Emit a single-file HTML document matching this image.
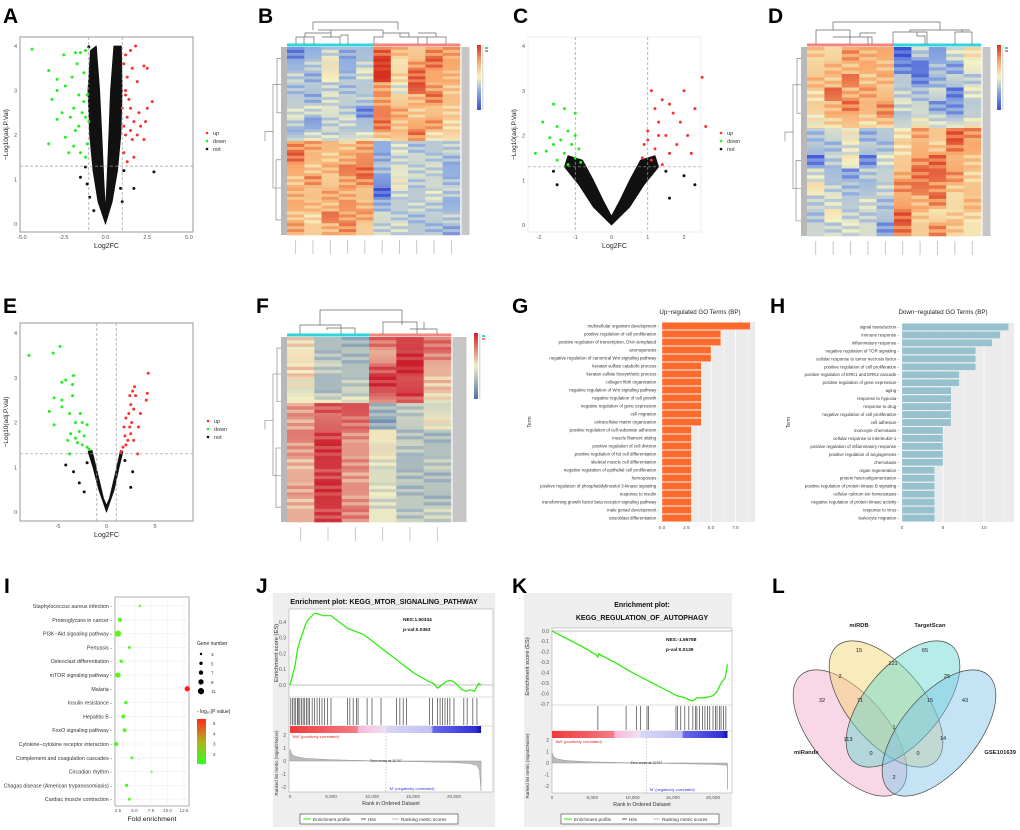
<!DOCTYPE html>
<html><head><meta charset="utf-8"><style>
html,body{margin:0;padding:0;background:#fff;}
svg{display:block;font-family:"Liberation Sans",Arial,sans-serif;}
</style></head><body>
<svg id="fig" width="1020" height="830" viewBox="0 0 1020 830" xmlns="http://www.w3.org/2000/svg">
<defs>
<linearGradient id="hmGrad" x1="0" y1="1" x2="0" y2="0"><stop offset="0" stop-color="#3b50d6"/><stop offset="0.3" stop-color="#91afe0"/><stop offset="0.5" stop-color="#f5f2c4"/><stop offset="0.75" stop-color="#f8a86a"/><stop offset="1" stop-color="#d7301f"/></linearGradient>
<linearGradient id="hmGradF" x1="0" y1="1" x2="0" y2="0"><stop offset="0" stop-color="#4a72a8"/><stop offset="0.5" stop-color="#f3eec4"/><stop offset="1" stop-color="#cc1f2e"/></linearGradient>
<linearGradient id="pGrad" x1="0" y1="1" x2="0" y2="0"><stop offset="0" stop-color="#33ff22"/><stop offset="0.5" stop-color="#b0b020"/><stop offset="1" stop-color="#ff2a1a"/></linearGradient>
<linearGradient id="rankGrad" x1="0" y1="0" x2="1" y2="0"><stop offset="0" stop-color="#f03a3a"/><stop offset="0.35" stop-color="#f47a86"/><stop offset="0.36" stop-color="#f7b8dc"/><stop offset="0.5" stop-color="#f0e0f4"/><stop offset="0.51" stop-color="#d6d6f6"/><stop offset="0.74" stop-color="#c0c0f4"/><stop offset="0.75" stop-color="#6868e8"/><stop offset="0.97" stop-color="#3030d8"/><stop offset="1" stop-color="#1010a0"/></linearGradient>
</defs>
<g font-weight="bold" font-size="21" fill="#000">
<text x="3" y="23">A</text>
<text x="258" y="23">B</text>
<text x="513" y="23">C</text>
<text x="768" y="23">D</text>
<text x="3" y="313">E</text>
<text x="256" y="313">F</text>
<text x="512" y="313">G</text>
<text x="770" y="313">H</text>
<text x="4" y="593">I</text>
<text x="256" y="593">J</text>
<text x="512" y="593">K</text>
<text x="772" y="593">L</text>
</g>
</svg>
<script>
// ---------- DATA ----------
const upA=[[1.2,3.8],[1.5,3.9],[1.8,4.0],[1.1,3.6],[1.3,3.3],[1.6,3.5],[2.3,3.55],[2.5,3.5],[1.2,3.0],[1.4,2.8],[1.9,3.2],[2.8,2.75],[1.5,2.6],[2.0,2.5],[1.3,2.4],[2.5,2.6],[1.7,2.3],[2.4,2.3],[1.2,2.0],[1.6,1.9],[2.3,1.9],[1.1,1.6],[1.7,1.5],[1.3,1.4],[1.9,2.0],[1.1,2.2],[1.5,2.1],[2.1,2.2],[1.2,2.9],[1.0,2.6]];
const downA=[[-4.4,3.93],[-3.4,3.45],[-2.5,3.8],[-1.8,3.85],[-1.5,3.85],[-1.7,3.6],[-2.9,3.25],[-2.9,3.0],[-3.2,2.8],[-2.4,3.1],[-2.0,3.3],[-2.6,2.5],[-2.9,2.35],[-3.4,1.8],[-2.1,2.4],[-1.9,2.6],[-1.6,2.9],[-1.3,2.75],[-1.6,2.2],[-1.2,2.4],[-2.4,1.95],[-1.9,1.75],[-2.2,1.6],[-1.5,1.6],[-1.2,1.5],[-1.8,2.1],[-1.4,2.5],[-1.1,1.8],[-1.3,3.4],[-1.2,3.9],[-1.1,2.9],[-1.0,2.3]];
const notA=[[-1.2,1.28],[-1.5,1.05],[2.9,1.17],[1.7,0.8],[-0.95,0.6],[1.0,0.5],[-0.7,0.3],[-1.0,3.98],[1.1,1.2],[-1.1,0.9],[0.9,0.8]];
const cloudA=[[[0,0],[-0.45,0.5],[-0.75,1.2],[-0.95,2.0],[-1.05,3.0],[-0.9,3.9],[-0.55,4.0],[-0.35,3.0],[-0.22,2.0],[-0.1,1.0],[-0.02,0.45]],[[0,0],[0.4,0.5],[0.72,1.2],[0.92,2.0],[1.0,3.0],[0.95,4.0],[0.5,4.0],[0.3,3.0],[0.2,2.0],[0.09,1.0],[0.02,0.45]]];
const upC=[[2.5,3.3],[1.1,3.0],[1.4,2.8],[1.6,2.7],[2.0,3.0],[1.2,2.6],[1.7,2.5],[2.3,2.6],[1.9,2.3],[1.3,2.3],[1.0,2.1],[1.5,2.0],[2.1,2.0],[0.9,1.8],[1.2,1.7],[1.6,1.6],[0.85,1.5],[1.1,1.45],[1.4,1.35],[1.8,1.8],[2.2,1.6],[1.0,1.9],[1.3,2.0],[2.6,2.2]];
const downC=[[-1.6,2.7],[-1.3,2.6],[-1.0,2.5],[-1.9,2.3],[-1.5,2.2],[-1.2,2.1],[-1.0,2.0],[-1.7,1.95],[-1.4,1.9],[-1.1,1.8],[-0.9,1.7],[-1.8,1.65],[-1.3,1.6],[-1.0,1.5],[-1.5,1.45],[-0.85,1.4],[-1.2,1.35],[-2.1,1.6],[-1.6,1.8]];
const notC=[[2.0,1.1],[2.3,0.9],[-1.5,0.9],[1.6,0.6],[-1.6,1.2],[1.5,1.2]];
const cloudC=[[[0,0],[-0.5,0.4],[-0.9,0.9],[-1.3,1.3],[-1.2,1.55],[-0.8,1.45],[-0.5,1.0],[-0.2,0.5],[0,0.2]],[[0,0],[0.5,0.4],[0.9,0.9],[1.3,1.3],[1.2,1.55],[0.8,1.45],[0.5,1.0],[0.2,0.5],[0,0.2]]];
const upE=[[4.3,3.1],[2.9,2.8],[2.7,2.7],[3.0,2.6],[2.5,2.4],[4.2,2.65],[4.1,2.5],[2.3,2.2],[2.8,2.3],[2.6,2.0],[3.5,2.2],[2.0,2.1],[2.4,1.9],[3.3,1.9],[1.9,1.7],[2.2,1.6],[2.8,1.6],[1.7,1.45],[2.0,1.5],[1.5,1.35],[3.2,1.3],[2.5,1.75],[1.8,1.9],[2.4,2.6]];
const downE=[[-8,3.5],[-4.8,3.7],[-5.5,3.55],[-3.4,3.05],[-4.2,2.95],[-4.6,2.9],[-3.5,2.85],[-5.4,2.55],[-4.6,2.5],[-3.5,2.6],[-5.9,2.25],[-5.4,1.95],[-3.8,2.2],[-2.7,2.2],[-3.2,2.0],[-2.5,2.0],[-2.0,1.95],[-3.7,1.75],[-2.8,1.8],[-2.3,1.7],[-4.0,1.6],[-3.0,1.55],[-2.5,1.5],[-2.0,1.45],[-3.8,1.3],[-1.8,1.4],[-4.6,2.35],[-3.2,1.65]];
const notE=[[-4.2,1.05],[-3.4,0.9],[-2.8,0.65],[2.5,0.55],[-2.3,0.45],[2.7,0.9],[-2.0,1.1],[1.9,1.15]];
const cloudE=[[[0,0],[-0.8,0.5],[-1.4,1.0],[-1.9,1.35],[-1.5,1.38],[-0.9,0.85],[-0.3,0.3],[0,0.15]],[[0,0],[0.8,0.5],[1.3,1.0],[1.7,1.35],[1.45,1.38],[0.9,0.85],[0.3,0.3],[0,0.15]]];

const matB=[[-1.5,-1,-0.5,-1,-0.8,1.5,0.8,0.5,1.2,1],[-1,-0.5,0,-1,-0.5,2,0.2,1,1.5,1],[-0.5,-1,0.2,-0.8,-0.3,2.2,0.5,1.5,1,0.8],[-0.8,-0.6,-0.5,-0.8,-0.6,1,-0.3,1.8,1,0.6],[-0.6,-1,-0.4,-0.5,-0.5,1,0.4,0.8,1.4,0.7],[-0.3,-0.3,-0.2,-0.6,-1.5,1.3,1,0.5,0.6,0.5],[-0.5,-1.2,-0.5,-0.4,-0.8,1.5,0.6,0.8,1.2,0.3],[-1,-0.5,-0.6,-0.6,-0.4,0.9,0.8,1.6,0.4,0.5],[1.2,1,0.8,0.6,1,-1,-0.3,-0.8,-0.6,-0.5],[1.5,0.8,0.5,0.8,1.2,-1,-0.5,-0.4,-0.6,-0.8],[1,0.5,0.8,1.4,1.5,-0.8,-0.2,-0.5,-0.5,-1],[0.6,1.2,0.5,1,1.3,-1.2,0,-0.6,-0.4,-0.8],[0.8,0.6,1,0.8,0.6,-1.8,-0.4,-0.6,-0.3,-0.6],[1,0.8,0.6,1.2,0.8,-1,-0.5,-0.4,-0.6,-1],[0.6,0.3,1.5,1,1,-0.3,-0.6,-0.8,-0.5,-0.5],[1,0.5,0.8,1.2,0.5,-0.5,-0.4,-0.6,-0.8,-1]];
const matD=[[0.6,0.3,1.2,0.8,1,-1.8,-0.5,-1.2,-0.2,0.2],[0.4,0.8,0.6,1,0.7,-1.5,-1.6,-0.8,-1.2,0],[0.8,0.5,1.5,0.6,0.8,-0.6,-1.5,-1,-0.4,-0.6],[0.3,1.6,0.8,1,0.6,-0.5,-0.8,-0.3,-1.5,-0.2],[0.5,0.8,1.4,0.8,1.3,-0.4,-0.4,-1.2,-1.3,-0.6],[0.2,0.6,0.8,0.6,0.9,-0.6,-0.2,-0.5,-0.8,-0.3],[-0.8,-0.3,0.1,-1,-0.6,0.2,1,0.6,1.6,1.2],[-0.6,-0.8,-0.3,-0.5,-0.8,0.3,0.8,0.5,1.4,1],[-1.6,-0.6,0.2,-1.5,-0.3,0.5,1.2,1.5,0.8,0.6],[-0.4,-0.8,-1.2,-0.6,-0.5,0.8,1.4,1.6,1.2,0.4],[0.3,-0.5,-0.8,-0.8,-0.4,1.2,1.5,1.2,0.6,0.6],[-0.5,-0.4,-0.6,-0.3,-0.8,0.9,0.8,1.4,0.3,0.8],[-0.8,0.2,-0.5,-0.6,-0.6,1.6,0.6,0.2,0.5,0.4],[-0.4,-0.5,-0.3,-0.3,-1.2,1.4,0.5,1.2,0.6,0.2]];
const matF=[[0.2,-0.8,-1,1.2,1.6,1.2],[0.1,-0.8,-0.9,0.6,1.8,1.0],[0.3,-0.6,-0.8,1.4,2.0,0.6],[0,-0.9,-0.6,1.8,1.5,0.4],[-0.2,-0.8,-0.7,1.5,1.9,0.2],[0.8,1.4,1.5,-0.9,-0.7,-0.4],[0.6,1.2,1.2,-1.4,-0.5,0.1],[1.1,1.6,0.9,0.1,-0.8,-0.9],[0.8,1.7,0.8,0,-0.7,-0.8],[0.5,1.8,0.9,-0.2,-0.9,-0.6],[0.6,1.6,0.7,-0.3,-0.8,-0.9],[0.7,1.7,0.9,-0.2,-0.9,-0.7],[0.5,1.8,0.8,-0.4,-0.6,-0.9],[0.6,1.6,1.0,-0.1,-0.7,-0.5]];

const goUpTerms=["multicellular organism development","positive regulation of cell proliferation","positive regulation of transcription, DNA-templated","axonogenesis","negative regulation of canonical Wnt signaling pathway","keratan sulfate catabolic process","keratan sulfate biosynthetic process","collagen fibril organization","negative regulation of Wnt signaling pathway","negative regulation of cell growth","negative regulation of gene expression","cell migration","extracellular matrix organization","positive regulation of cell-substrate adhesion","muscle filament sliding","positive regulation of cell division","positive regulation of fat cell differentiation","skeletal muscle cell differentiation","negative regulation of epithelial cell proliferation","hemopoiesis","positive regulation of phosphatidylinositol 3-kinase signaling","response to insulin","transforming growth factor beta receptor signaling pathway","male gonad development","osteoblast differentiation"];
const goUpVals=[9,6,6,5,5,4,4,4,4,4,4,4,4,3,3,3,3,3,3,3,3,3,3,3,3];
const goDownTerms=["signal transduction","immune response","inflammatory response","negative regulation of TOR signaling","cellular response to tumor necrosis factor","positive regulation of cell proliferation","positive regulation of ERK1 and ERK2 cascade","positive regulation of gene expression","aging","response to hypoxia","response to drug","negative regulation of cell proliferation","cell adhesion","monocyte chemotaxis","cellular response to interleukin-1","positive regulation of inflammatory response","positive regulation of angiogenesis","chemotaxis","organ regeneration","protein heterooligomerization","positive regulation of protein kinase B signaling","cellular calcium ion homeostasis","negative regulation of protein kinase activity","response to virus","leukocyte migration"];
const goDownVals=[13,12,11,9,9,9,7,7,6,6,6,6,6,5,5,5,5,5,4,4,4,4,4,4,4];

const keggTerms=["Staphylococcus aureus infection","Proteoglycans in cancer","PI3K−Akt signaling pathway","Pertussis","Osteoclast differentiation","mTOR signaling pathway","Malaria","Insulin resistance","Hepatitis B","FoxO signaling pathway","Cytokine−cytokine receptor interaction","Complement and coagulation cascades","Circadian rhythm","Chagas disease (American trypanosomiasis)","Cardiac muscle contraction"];
const keggFold=[5.8,2.8,2.5,4.2,3.0,2.5,13.0,3.7,3.3,3.5,2.2,4.6,7.6,3.8,4.2];
const keggGenes=[3,7,11,4,5,9,9,5,6,6,7,4,2,5,4];
const keggLogP=[1.6,1.8,1.9,1.5,1.4,1.9,5.5,1.5,1.6,1.7,1.5,1.4,1.2,1.5,1.4];

const jRanks=[0,300,600,900,1200,1600,2000,2500,3000,3500,4000,5000,6000,7000,8000,9000,10000,11000,12000,13000,14000,15000,16000,17000,17500,18000,18500,19000,19500,20000,21000,21500,22000,22500,23000,23300];
const jES=[0,0.06,0.12,0.22,0.28,0.34,0.4,0.43,0.455,0.45,0.44,0.44,0.4,0.36,0.34,0.32,0.28,0.24,0.2,0.16,0.12,0.08,0.05,0.02,0.01,-0.02,0,0.02,0.03,0.02,-0.03,-0.04,-0.03,-0.04,0.01,0];
const jHits=[100,300,500,700,900,1000,1200,1400,1600,1800,2000,2200,2400,2700,3000,3300,3600,3900,4200,4600,5000,7000,7300,7700,8100,8300,9400,10000,11100,13000,13400,13800,14200,17000,17400,18000,18300,18600,18900,19200,19500,20000,21200,21600,22300,22800];
const kRanks=[0,2000,4000,5500,5700,5800,8000,10000,12000,14000,15000,15500,16500,17000,17500,18000,19000,20000,20500,21000,21500,21800];
const kES=[0,-0.08,-0.16,-0.23,-0.25,-0.22,-0.31,-0.40,-0.48,-0.56,-0.6,-0.62,-0.64,-0.66,-0.67,-0.64,-0.64,-0.62,-0.58,-0.5,-0.45,-0.32];
const kHits=[5700,9200,10500,11000,11800,12000,15400,15600,16000,16500,17000,17500,17800,18000,18300,18700,19000,19300,19600,20000,20300,20500,20800,21000,21300,21600];
const metricRanks=[0,200,500,1000,2000,5000,8000,11707,15000,20000,22000,22800,23100,23300];
const metricVals=[0.9,0.55,0.4,0.3,0.2,0.1,0.05,0,-0.05,-0.12,-0.2,-0.35,-0.7,-2.3];

const vennNames=["miRanda","miRDB","TargetScan","GSE101639"];
const vennCounts=["15","65","121","2","25","32","71","15","43","1","113","14","0","0","2"];

// ---------- HELPERS ----------
const NS='http://www.w3.org/2000/svg';
const svg=document.getElementById('fig');
function mk(tag,attrs,parent){const e=document.createElementNS(NS,tag);for(const k in attrs)e.setAttribute(k,attrs[k]);(parent||svg).appendChild(e);return e;}
function txt(x,y,s,size,attrs,parent){const e=mk('text',Object.assign({x:x,y:y,'font-size':size},attrs||{}),parent);e.textContent=s;return e;}
function lin(d0,d1,r0,r1){return v=>r0+(v-d0)*(r1-r0)/(d1-d0);}

// ---------- VOLCANO ----------
function volcano(cfg){
  const g=mk('g',{});
  
  
  const X=lin(cfg.xd[0],cfg.xd[1],cfg.xr[0],cfg.xr[1]);
  const Y=lin(0,4,cfg.y0,cfg.y4);
  const fr=mk('rect',{x:cfg.box[0],y:cfg.box[1],width:cfg.box[2]-cfg.box[0],height:cfg.box[3]-cfg.box[1],fill:'#fff',stroke:cfg.frame,'stroke-width':1},g);
  
  
  cfg.cloud.forEach(poly=>{
    const p=mk('polygon',{points:poly.map(q=>X(q[0])+','+Y(q[1])).join(' '),fill:'#111',stroke:'#111','stroke-width':0.8,'stroke-linejoin':'round'},g);
    
    
  });
  const sets=[[cfg.not,'#111','not-point'],[cfg.down,'#22ee22','down-point'],[cfg.up,'#ff3030','up-point']];
  sets.forEach(s=>s[0].forEach(q=>{
    const c=mk('circle',{cx:X(q[0]),cy:Y(q[1]),r:1.5,fill:s[1]},g);
    
    
  }));
  const dl={stroke:'#999','stroke-dasharray':'3,2','stroke-width':0.7};
  [-1,1].forEach(v=>{const l=mk('line',Object.assign({x1:X(v),x2:X(v),y1:cfg.box[1],y2:cfg.box[3]},dl),g);
    
    });
  const hl=mk('line',Object.assign({x1:cfg.box[0],x2:cfg.box[2],y1:Y(1.3),y2:Y(1.3)},dl),g);
  
  
  cfg.xt.forEach((v,i)=>{const t=txt(X(v),cfg.box[3]+7,cfg.xtl[i],5.5,{'text-anchor':'middle',fill:'#555'},g);
    
    });
  [0,1,2,3,4].forEach(v=>{const t=txt(cfg.box[0]-3,Y(v)+2,String(v),5.5,{'text-anchor':'end',fill:'#555'},g);
    
    });
  const xt=txt((cfg.box[0]+cfg.box[2])/2,cfg.box[3]+16,'Log2FC',7,{'text-anchor':'middle',fill:'#222'},g);
  
  
  const cy=(cfg.box[1]+cfg.box[3])/2;
  const yt=txt(cfg.box[0]-12,cy,'−Log10(adj.P.Val)',6.5,{'text-anchor':'middle',fill:'#222',transform:'rotate(-90 '+(cfg.box[0]-12)+' '+cy+')'},g);
  
  
  [['up','#ff3030'],['down','#22ee22'],['not','#111']].forEach((s,i)=>{
    const c=mk('circle',{cx:cfg.leg[0],cy:cfg.leg[1]+i*8,r:1.3,fill:s[1]},g);
    
    
    const t=txt(cfg.leg[0]+6,cfg.leg[1]+i*8+2,s[0],5.5,{fill:'#333'},g);
    
    
  });
}
volcano({name:'volcano-a',box:[20,37,193,232],frame:'#999',xd:[-5,5],xr:[22,189],y0:224,y4:46,up:upA,down:downA,not:notA,cloud:cloudA,xt:[-5,-2.5,0,2.5,5],xtl:['-5.0','-2.5','0.0','2.5','5.0'],leg:[207,133]});
volcano({name:'volcano-c',box:[528,37,701,232],frame:'#eee',xd:[-2,2],xr:[539,684],y0:225,y4:46,up:upC,down:downC,not:notC,cloud:cloudC,xt:[-2,-1,0,1,2],xtl:['-2','-1','0','1','2'],leg:[721,133]});
volcano({name:'volcano-e',box:[20,323,193,521],frame:'#999',xd:[-5,5],xr:[58,155],y0:512,y4:333,up:upE,down:downE,not:notE,cloud:cloudE,xt:[-5,0,5],xtl:['-5','0','5'],leg:[208,421]});

// ---------- HEATMAPS ----------
function hcolor(v,stops){
  const t=Math.max(0,Math.min(1,(v+2)/4));
  const n=stops.length-1;const i=Math.min(n-1,Math.floor(t*n));const f=t*n-i;
  const a=stops[i],b=stops[i+1];
  return 'rgb('+[0,1,2].map(k=>Math.round(a[k]+(b[k]-a[k])*f)).join(',')+')';
}
const stopsRB=[[59,80,214],[145,175,224],[245,242,196],[248,168,106],[215,48,31]];
const stopsF=[[74,114,168],[160,180,190],[243,238,196],[225,130,120],[204,31,46]];
function heatmap(cfg){
  const g=mk('g',{});
  
  
  const m=cfg.mat, nr=m.length, nc=m[0].length;
  const cw=(cfg.x1-cfg.x0)/nc, rh=(cfg.y1-cfg.y0)/nr, sub=4;
  m.forEach((row,r)=>row.forEach((v,c)=>{
    for(let s=0;s<sub;s++){
      const nb=m[Math.min(nr-1,r+1)][c];
      const vv=v+(nb-v)*(s/sub)*0.35+((s%2)?0.25:-0.25)*((c+r)%3-1);
      const rc=mk('rect',{x:cfg.x0+c*cw,y:cfg.y0+r*rh+s*rh/sub,width:cw+0.3,height:rh/sub+0.3,fill:hcolor(vv,cfg.stops)},g);
      
      
    }
  }));
  cfg.groups.forEach((col,c)=>{
    const b=mk('rect',{x:cfg.x0+c*cw,y:cfg.y0-3.5,width:cw+0.3,height:3,fill:col},g);
    
    
    const lab=mk('rect',{x:cfg.x0+c*cw+cw/2-0.4,y:cfg.y1+5,width:0.8,height:14,fill:'#bbb'},g);
    
    
  });
  const dg=mk('path',{d:cfg.topDendro,fill:'none',stroke:'#666','stroke-width':0.7},g);
  
  
  const ld=mk('path',{d:cfg.leftDendro,fill:'none',stroke:'#777','stroke-width':0.6},g);
  
  
  const fr=mk('rect',{x:cfg.x0-6,y:cfg.y0,width:6,height:cfg.y1-cfg.y0,fill:'#b8b8b8'},g);
  
  
  const rl=mk('rect',{x:cfg.x1+1.5,y:cfg.y0,width:cfg.labW,height:cfg.y1-cfg.y0,fill:'#c6c6c6'},g);
  
  
  const cb=mk('rect',{x:cfg.cb[0],y:cfg.cb[1],width:4,height:cfg.cb[2],fill:cfg.grad},g);
  
  
  const cl=mk('rect',{x:cfg.cb[0]+5,y:cfg.cb[1],width:1.5,height:cfg.cb[2],fill:'#ddd'},g);
  
  
  const lg1=mk('rect',{x:cfg.cb[0]+8,y:cfg.cb[1]+2,width:3,height:2,fill:cfg.legCols[0]},g);
  
  
  const lg2=mk('rect',{x:cfg.cb[0]+8,y:cfg.cb[1]+5,width:3,height:2,fill:cfg.legCols[1]},g);
  
  
}
const CY='#2fd3dc', PK='#f3857e';
function leftD(x0,y0,y1){const h=y1-y0;return `M${x0-6},${y0+h*0.2}H${x0-14}V${y0+h*0.75}H${x0-6} M${x0-14},${y0+h*0.45}H${x0-22}V${y0+h*0.5} M${x0-6},${y0+h*0.06}H${x0-10}V${y0+h*0.35}H${x0-6} M${x0-6},${y0+h*0.6}H${x0-11}V${y0+h*0.92}H${x0-6} M${x0-10},${y0+h*0.2}H${x0-14} M${x0-11},${y0+h*0.75}H${x0-14}`;}
heatmap({name:'heatmap-b',x0:287,x1:460,y0:47,y1:235,mat:matB,stops:stopsRB,grad:'url(#hmGrad)',groups:[CY,CY,CY,CY,CY,PK,PK,PK,PK,PK],labW:8,cb:[477,45,65],legCols:[CY,PK],
  topDendro:'M296,44V37H314V44 M305,37V33H331V37 M322,37H340V44 M331,33V30H340 M348,44V35H341V37 M313,30V22H398V30 M383,30V37H374V44 M383,37V33H409V37 M400,33V37H418V44 M409,37H427V44 M427,37H446V44 M436,37V33H418 M318,30H383 M304,44V37',
  leftDendro:leftD(287,47,235)});
heatmap({name:'heatmap-d',x0:807,x1:981,y0:47,y1:236,mat:matD,stops:stopsRB,grad:'url(#hmGrad)',groups:[PK,PK,PK,PK,PK,CY,CY,CY,CY,CY],labW:8,cb:[997,45,65],legCols:[CY,PK],
  topDendro:'M816,44V30H850V44 M833,30V22H940V30 M833,37H872V44 M860,37V33H876 M868,37V44 M893,44V32H927V44 M910,32V30H970 M955,44V32H972V44 M962,32V30 M917,32V36H925V44 M940,22V30',
  leftDendro:leftD(807,47,236)});
heatmap({name:'heatmap-f',x0:287,x1:451,y0:337,y1:522,mat:matF,stops:stopsF,grad:'url(#hmGradF)',groups:[CY,CY,CY,PK,PK,PK],labW:14,cb:[474,333,66],legCols:[CY,PK],
  topDendro:'M300,334V325H341V334 M327,330V328H355V334 M320,325V310H402V322 M383,334V322H417V334 M410,329H437V334 M424,329V322 M402,322V325',
  leftDendro:leftD(287,337,522)});

// ---------- GO BARS ----------
function goBars(cfg){
  const g=mk('g',{});
  
  
  const X=lin(0,1,cfg.x0,cfg.x0+cfg.ppu);
  const n=cfg.terms.length, rh=(cfg.y1-cfg.y0)/n;
  const bg=mk('rect',{x:cfg.x0,y:cfg.y0,width:cfg.x1-cfg.x0,height:cfg.y1-cfg.y0,fill:'#ebebeb'},g);
  
  
  for(let v=0;X(v)<=cfg.x1;v+=cfg.step/2){
    const l=mk('line',{x1:X(v),x2:X(v),y1:cfg.y0,y2:cfg.y1,stroke:'#fff','stroke-width':(v%cfg.step===0)?0.8:0.4},g);
    
    
  }
  cfg.terms.forEach((t,i)=>{
    const yc=cfg.y0+rh*(i+0.5);
    const b=mk('rect',{x:X(0),y:yc-rh*0.45,width:X(cfg.vals[i])-X(0),height:rh*0.9,fill:cfg.color,stroke:'#fff','stroke-width':0.3},g);
    
    
    const tl=txt(cfg.x0-3,yc+1.5,t+' -',4.4,{'text-anchor':'end',fill:'#333'},g);
    
    
  });
  cfg.ticks.forEach((v,i)=>{
    const t=txt(X(v),cfg.y1+7,cfg.tickLabels[i],4.8,{'text-anchor':'middle',fill:'#555'},g);
    
    
  });
  const ti=txt(cfg.titleX,314,cfg.title,6.2,{'text-anchor':'middle',fill:'#222'},g);
  
  
  const ty=(cfg.y0+cfg.y1)/2;
  const tt=txt(cfg.termX,ty,'Term',5,{'text-anchor':'middle',fill:'#333',transform:'rotate(-90 '+cfg.termX+' '+ty+')'},g);
  
  
}
goBars({name:'go-up-chart',terms:goUpTerms,vals:goUpVals,x0:662,x1:755,y0:322,y1:522,ppu:9.8,step:2.5,ticks:[0,2.5,5,7.5],tickLabels:['0.0','2.5','5.0','7.5'],color:'#fe6a2b',title:'Up−regulated GO Terms (BP)',titleX:700,termX:531});
goBars({name:'go-down-chart',terms:goDownTerms,vals:goDownVals,x0:902,x1:1014,y0:323,y1:522,ppu:8.2,step:5,ticks:[0,5,10],tickLabels:['0','5','10'],color:'#96c1cd',title:'Down−regulated GO Terms (BP)',titleX:943,termX:790});

// ---------- KEGG BUBBLE ----------
(function(){
  const g=mk('g',{});
  
  
  const x0=115,x1=189,y0=597,y1=806;
  const X=lin(2.5,12.5,118,184);
  const Y=i=>606+i*13.8;
  const fr=mk('rect',{x:x0,y:y0,width:x1-x0,height:y1-y0,fill:'#fff',stroke:'#999','stroke-width':0.8},g);
  
  
  [2.5,5,7.5,10,12.5].forEach(v=>{
    const l=mk('line',{x1:X(v),x2:X(v),y1:y0,y2:y1,stroke:'#eee','stroke-width':0.6},g);
    
    
    const t=txt(X(v),y1+6,v.toFixed(1),4.6,{'text-anchor':'middle',fill:'#555'},g);
    
    
  });
  const R=n=>0.5+0.24*n;
  const C=p=>hcolor((p-1)/4.5*4-2,[[51,255,34],[110,240,30],[200,190,30],[240,110,20],[255,30,20]]);
  keggTerms.forEach((t,i)=>{
    const l=mk('line',{x1:x0,x2:x1,y1:Y(i),y2:Y(i),stroke:'#eee','stroke-width':0.6},g);
    
    
    const c=mk('circle',{cx:X(keggFold[i]),cy:Y(i),r:R(keggGenes[i]),fill:C(keggLogP[i])},g);
    
    
    const tl=txt(x0-3,Y(i)+2,t+' -',5.3,{'text-anchor':'end',fill:'#333'},g);
    
    
  });
  const xt=txt(152,821,'Fold enrichment',6.8,{'text-anchor':'middle',fill:'#111'},g);
  
  
  const gt=txt(197,645,'Gene number',5,{fill:'#222'},g);
  
  
  [3,5,7,9,11].forEach((n,i)=>{
    const c=mk('circle',{cx:201,cy:654+i*9.3,r:R(n),fill:'#000'},g);
    
    
    const t=txt(211,656+i*9.3,String(n),4.5,{fill:'#333'},g);
    
    
  });
  const ct=txt(197,713,'- log\u2081\u2080(P value)',5,{fill:'#222'},g);
  
  
  const cb=mk('rect',{x:197,y:719,width:9,height:45,fill:'url(#pGrad)'},g);
  
  
  [5,4,3,2].forEach((v,i)=>{
    const t=txt(213,725+i*10.3,String(v),4.5,{fill:'#333'},g);
    
    
  });
})();

// ---------- GSEA ----------
function gsea(cfg){
  const g=mk('g',{});
  
  
  const bg=mk('rect',{x:cfg.bg[0],y:cfg.bg[1],width:cfg.bg[2]-cfg.bg[0],height:cfg.bg[3]-cfg.bg[1],fill:'#eeeeee'},g);
  
  
  const X=lin(0,20000,cfg.rx0,cfg.rx20);
  const Y=lin(cfg.esD[0],cfg.esD[1],cfg.esR[0],cfg.esR[1]);
  const M=lin(2,-2,cfg.m2,cfg.mm2);
  const px0=cfg.px0,px1=cfg.px1;
  const pl=mk('rect',{x:px0,y:cfg.esTop,width:px1-px0,height:cfg.mBot-cfg.esTop,fill:'#fff',stroke:'#aaa','stroke-width':0.6},g);
  
  
  cfg.title.forEach((t,i)=>{
    const e=txt(cfg.titleX,cfg.titleY+i*13,t,cfg.titleSize,{'text-anchor':'middle','font-weight':'bold',fill:'#111'},g);
    
    
  });
  const zl=mk('line',{x1:px0,x2:px1,y1:Y(0),y2:Y(0),stroke:'#aaa','stroke-width':0.8},g);
  
  
  const es=mk('polyline',{points:cfg.ranks.map((r,i)=>X(r)+','+Y(cfg.es[i])).join(' '),fill:'none',stroke:'#22ee00','stroke-width':1.2},g);
  
  
  [cfg.esBot,cfg.hitBot].forEach(y=>{const l=mk('line',{x1:px0,x2:px1,y1:y,y2:y,stroke:'#bbb','stroke-width':0.6},g);
    
    });
  cfg.hits.forEach(r=>{
    const l=mk('line',{x1:X(r),x2:X(r),y1:cfg.esBot+1,y2:cfg.hitBot-1,stroke:'#222','stroke-width':0.6},g);
    
    
  });
  const rb=mk('rect',{x:X(0),y:cfg.hitBot,width:X(cfg.nRank)-X(0),height:7,fill:'url(#rankGrad)'},g);
  
  
  const mpts=metricRanks.map((r,i)=>X(Math.min(r,cfg.nRank))+','+M(metricVals[i])).join(' ');
  const mp=mk('polygon',{points:X(0)+','+M(0)+' '+mpts+' '+X(cfg.nRank)+','+M(0),fill:'#bbb',stroke:'#999','stroke-width':0.5},g);
  
  
  const zc=mk('line',{x1:X(11707),x2:X(11707),y1:cfg.hitBot+7,y2:cfg.mBot,stroke:'#aaa','stroke-dasharray':'1.5,1.5','stroke-width':0.6},g);
  
  
  const z1=txt(X(11707),M(0)+1,'Zero cross at 11707',3.6,{'text-anchor':'middle',fill:'#333'},g);
  
  
  const p1=txt(px0+3,cfg.hitBot+12,"'AW' (positively correlated)",4,{fill:'#e02020'},g);
  
  
  const p2=txt(X(11707)+3,cfg.mBot-2,"'M' (negatively correlated)",4,{fill:'#3030e0'},g);
  
  
  cfg.esTicks.forEach(v=>{const t=txt(px0-3,Y(v)+1.8,v.toFixed(1),5,{'text-anchor':'end',fill:'#555'},g);
    
    });
  [2,1,0,-1,-2].forEach(v=>{const t=txt(px0-3,M(v)+1.8,String(v),5,{'text-anchor':'end',fill:'#555'},g);
    
    });
  [0,5000,10000,15000,20000].forEach(v=>{const t=txt(X(v),cfg.mBot+6,v.toLocaleString('en-US'),4.6,{'text-anchor':'middle',fill:'#555'},g);
    
    });
  const xt=txt((px0+px1)/2,cfg.mBot+13,'Rank in Ordered Dataset',5.2,{'text-anchor':'middle',fill:'#333'},g);
  
  
  const ey=(cfg.esTop+cfg.esBot)/2, my=(cfg.hitBot+cfg.mBot)/2, yx=cfg.bg[0]+5;
  const e1=txt(yx,ey,'Enrichment score (ES)',5.8,{'text-anchor':'middle',fill:'#333',transform:'rotate(-90 '+yx+' '+ey+')'},g);
  
  
  const e2=txt(yx,my+4,'Ranked list metric (Signal2Noise)',4.4,{'text-anchor':'middle',fill:'#333',transform:'rotate(-90 '+yx+' '+(my+4)+')'},g);
  
  
  const nes=txt(cfg.nesX,cfg.nesY,cfg.nes,4.8,{'font-weight':'bold',fill:'#111'},g);
  
  
  const pv=txt(cfg.nesX,cfg.nesY+10,cfg.pval,4.8,{'font-weight':'bold',fill:'#111'},g);
  
  
  const lx=cfg.legX, ly=cfg.legY;
  const lb=mk('rect',{x:lx,y:ly,width:158,height:10,fill:'#fff',stroke:'#333','stroke-width':0.6},g);
  
  
  const l1=mk('line',{x1:lx+3,x2:lx+11,y1:ly+5,y2:ly+5,stroke:'#22ee00','stroke-width':1},g);
  
  
  const t1=txt(lx+13,ly+7,'Enrichment profile',4.6,{fill:'#333'},g);
  
  
  const l2=mk('line',{x1:lx+61,x2:lx+66,y1:ly+5,y2:ly+5,stroke:'#333','stroke-width':0.8},g);
  
  
  const t2=txt(lx+68,ly+7,'Hits',4.6,{fill:'#333'},g);
  
  
  const l3=mk('line',{x1:lx+92,x2:lx+99,y1:ly+5,y2:ly+5,stroke:'#bbb','stroke-width':1},g);
  
  
  const t3=txt(lx+101,ly+7,'Ranking metric scores',4.6,{fill:'#333'},g);
  
  
}
gsea({name:'gsea-mtor',bg:[273,593,495,827],px0:289,px1:493,rx0:290,rx20:454,nRank:23300,esTop:609,esBot:697,hitBot:726,mBot:792,esD:[0,0.4],esR:[685,622],m2:735,mm2:787,ranks:jRanks,es:jES,hits:jHits,esTicks:[0,0.1,0.2,0.3,0.4],title:['Enrichment plot: KEGG_MTOR_SIGNALING_PATHWAY'],titleX:384,titleY:604,titleSize:7.2,nes:'NES:1.50334',pval:'p-val:0.0363',nesX:403,nesY:621,legX:300,legY:814});
gsea({name:'gsea-autophagy',bg:[524,593,732,827],px0:552,px1:732,rx0:552,rx20:713,nRank:21800,esTop:628,esBot:705,hitBot:731,mBot:793,esD:[0,-0.7],esR:[631,704],m2:740,mm2:786,ranks:kRanks,es:kES,hits:kHits,esTicks:[0,-0.1,-0.2,-0.3,-0.4,-0.5,-0.6,-0.7],title:['Enrichment plot:','KEGG_REGULATION_OF_AUTOPHAGY'],titleX:642,titleY:607,titleSize:7,nes:'NES:-1.66788',pval:'p-val:0.0139',nesX:666,nesY:641,legX:561,legY:814});

// ---------- VENN ----------
(function(){
  const g=mk('g',{});
  
  
  const ells=[[850,733,-40,'#f0a8c8'],[886,704,-40,'#f5d36a'],[903,704,40,'#5fd8cf'],[939,733,40,'#7cc4ea']];
  ells.forEach((e,i)=>{
    const el=mk('ellipse',{cx:e[0],cy:e[1],rx:38,ry:76,transform:'rotate('+e[2]+' '+e[0]+' '+e[1]+')',fill:e[3],'fill-opacity':0.45,stroke:'#444','stroke-width':0.7},g);
    
    
  });
  const namePos=[[794,754,'start'],[859,627,'middle'],[930,627,'middle'],[1016,754,'end']];
  vennNames.forEach((n,i)=>{
    const t=txt(namePos[i][0],namePos[i][1],n,5.8,{'text-anchor':namePos[i][2],'font-weight':'bold',fill:'#222'},g);
    
    
  });
  const cpos=[[859,652],[925,652],[893,665],[840,678],[947,678],[822,702],[860,702],[930,702],[965,702],[894,729],[848,741],[943,740],[871,755],[918,755],[894,779]];
  vennCounts.forEach((c,i)=>{
    const t=txt(cpos[i][0],cpos[i][1],c,5.6,{'text-anchor':'middle',fill:'#222'},g);
    
    
  });
})();
</script>
</body></html>
